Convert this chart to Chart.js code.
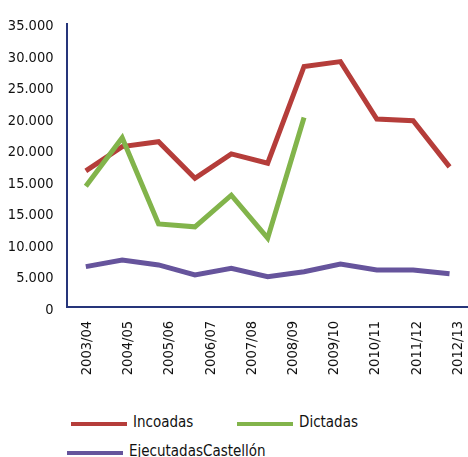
<!DOCTYPE html>
<html><head><meta charset="utf-8">
<script src="https://cdn.jsdelivr.net/npm/chart.js@4"></script>
<style>
html,body{margin:0;padding:0;background:#fff;overflow:hidden;width:468px;height:457px;}
#wrap{position:relative;width:468px;height:457px;overflow:hidden;}
canvas{position:absolute;left:0;top:0;}
.lg{position:absolute;height:20px;font:15px 'Liberation Sans Narrow','DejaVu Sans Condensed',sans-serif;color:#111;display:flex;align-items:center;white-space:nowrap;}
.lg .ln{display:inline-block;width:56px;height:4px;margin-right:6px;position:relative;top:1.5px;}
</style></head><body>
<div id="wrap"><canvas id="c" width="490" height="400"></canvas></div>
<script>
// Category labels of the x axis
const categories = ['2003/04','2004/05','2005/06','2006/07','2007/08','2008/09','2009/10','2010/11','2011/12','2012/13'];
// Y tick labels as printed in the reference
const yTickLabels = ['0','5.000','10.000','15.000','15.000','20.000','20.000','25.000','30.000','35.000'];
// Series values
const incoadas   = [16800, 19800, 20400, 15900, 18900, 17750, 29700, 30300, 23200, 23000, 17300];
const dictadas   = [14900, 20900, 10250, 9900, 13800, 8500, 23400];
const ejecutadas = [4980, 5800, 5190, 3950, 4780, 3740, 4350, 5310, 4570, 4570, 4100];
const seriesNames = ['Incoadas','Dictadas','EjecutadasCastellón'];
const seriesColors = ['#b53d3a','#82b44b','#66549c'];

const axisColor = '#26357a';
const font = {family:"'Liberation Sans Narrow','DejaVu Sans Condensed',sans-serif", size:14.5};
const toXY = arr => arr.map((v,i)=>({x:i,y:v}));
const seriesData = [incoadas, dictadas, ejecutadas];
const orders = [1,0,2];

new Chart(document.getElementById('c'), {
  type:'line',
  data:{
    datasets: seriesData.map((d,k)=>({
      label: seriesNames[k], data: toXY(d), borderColor: seriesColors[k], backgroundColor: seriesColors[k],
      borderWidth:5, pointRadius:0, tension:0, fill:false, order:orders[k], xAxisID:'x', yAxisID:'y'
    }))
  },
  options:{
    responsive:false, animation:false, devicePixelRatio:1,
    layout:{padding:{top:23.5,right:7.5,left:0,bottom:0}},
    plugins:{legend:{display:false}, tooltip:{enabled:false}},
    scales:{
      x:{type:'linear', min:-0.531, max:10.80, display:false},
      xl:{type:'category', labels:categories, offset:true, position:'bottom',
          grid:{display:false, drawTicks:false}, border:{display:true,color:axisColor,width:2},
          ticks:{minRotation:90,maxRotation:90,autoSkip:false,padding:14,font:font,color:'#111'},
          afterFit(s){s.height=93;}},
      y:{type:'linear', min:0, max:35000,
          afterBuildTicks(s){s.ticks = yTickLabels.map((t,i)=>({value:i*35000/9}));},
          ticks:{callback:(v,i)=>yTickLabels[i], padding:13, labelOffset:3, font:font, color:'#111'},
          grid:{display:false, drawTicks:false}, border:{display:true,color:axisColor,width:2},
          afterFit(s){s.width=66.5;}}
    }
  }
});

// HTML legend
const wrap = document.getElementById('wrap');
const legendPos = [[71,412],[237,412],[67,441]];
seriesNames.forEach((n,k)=>{
  const d = document.createElement('div');
  d.className='lg'; d.style.left=legendPos[k][0]+'px'; d.style.top=legendPos[k][1]+'px';
  const ln = document.createElement('span'); ln.className='ln'; ln.style.background=seriesColors[k];
  d.appendChild(ln); d.appendChild(document.createTextNode(n));
  wrap.appendChild(d);
});
</script>
</body></html>
